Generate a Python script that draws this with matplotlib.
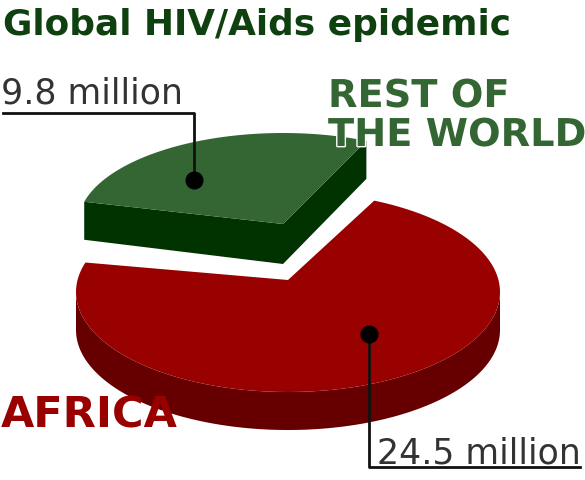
import numpy as np
import matplotlib
matplotlib.use("Agg")
import matplotlib.pyplot as plt
import matplotlib.patheffects as pe
from matplotlib.patches import Polygon

labels = ["REST OF\nTHE WORLD", "AFRICA"]
values = [9.8, 24.5]
value_labels = ["9.8 million", "24.5 million"]
title = "Global HIV/Aids epidemic"

top_colors = ["#336633", "#990000"]
side_colors = ["#003300", "#660000"]
text_colors = ["#336633", "#990000"]

# pie geometry in picture pixels
start_angle = 66
centers = [(283, 224), (288, 292)]
apex = [(283, 224), (288, 280)]
radii = [(205, 91), (212, 100)]
depth = [38, 38]
# the big slice reaches a bit further round on its left side
overlap = 6

fig = plt.figure(figsize=(5.85, 4.8), dpi=100)
ax = fig.add_axes([0, 0, 1, 1])
ax.set_xlim(0, 585)
ax.set_ylim(480, 0)
ax.axis("off")


def arc(i, a0, a1):
    t = np.radians(np.linspace(a0, a1, 200))
    cx, cy = centers[i]
    rx, ry = radii[i]
    return np.column_stack([cx + rx * np.cos(t), cy - ry * np.sin(t)])


spans = np.array(values) / sum(values) * 360

# rest of the world, cut faces show below it
outer = arc(0, start_angle, start_angle + spans[0] - 3)
ax_, ay_ = apex[0]
d = depth[0]
side = np.vstack([outer[-1], [ax_, ay_], outer[0],
                  outer[0] + [0, d], [ax_, ay_ + d + 2], outer[-1] + [0, d]])
ax.add_patch(Polygon(side, closed=True, fc=side_colors[0], ec="none"))
ax.add_patch(Polygon(np.vstack([apex[0], outer]), closed=True, fc=top_colors[0], ec="none"))

# africa, only the front of the rim shows
outer = arc(1, start_angle + spans[0] - overlap, start_angle + spans[0] + spans[1])
front = arc(1, 180, 360)
side = np.vstack([front, (front + [0, depth[1]])[::-1]])
ax.add_patch(Polygon(side, closed=True, fc=side_colors[1], ec="none"))
ax.add_patch(Polygon(np.vstack([apex[1], outer]), closed=True, fc=top_colors[1], ec="none"))

# leader lines
ax.plot([3, 194, 194], [113, 113, 180], color="#111111", lw=2)
ax.plot([369, 369, 580], [334, 467, 467], color="#111111", lw=2)
ax.plot([194, 369], [180, 334], "o", color="black", ms=12, ls="none")

ax.text(3, 35, title, color="#0f400f", fontsize=25.8, fontweight="bold", va="baseline", ha="left")
ax.text(1, 103, value_labels[0], color="#333333", fontsize=25, va="baseline", ha="left")
ax.text(581, 464, value_labels[1], color="#333333", fontsize=25, va="baseline", ha="right")

halo = [pe.withStroke(linewidth=2, foreground="white")]
world_lines = labels[0].split("\n")
ax.text(328, 107, world_lines[0], color=text_colors[0], fontsize=27.6, fontweight="bold",
        va="baseline", ha="left", path_effects=halo)
ax.text(328, 146, world_lines[1], color=text_colors[0], fontsize=27.6, fontweight="bold",
        va="baseline", ha="left", path_effects=halo)
ax.text(1, 427, labels[1], color=text_colors[1], fontsize=31, fontweight="bold",
        va="baseline", ha="left")

fig.savefig("out.png", dpi=100)
